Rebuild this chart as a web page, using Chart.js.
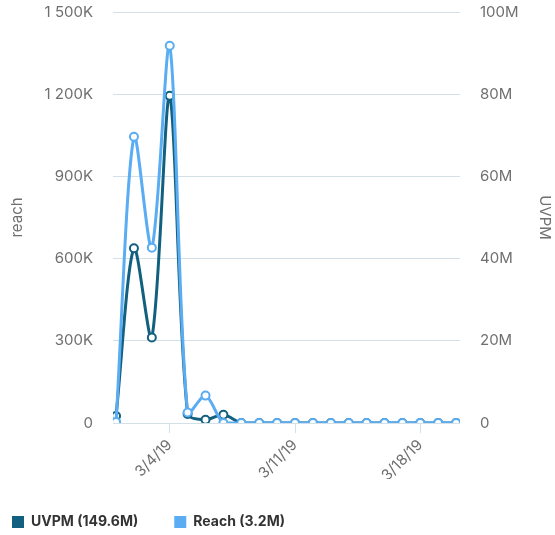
<!DOCTYPE html>
<html>
<head>
<meta charset="utf-8">
<script src="https://cdn.jsdelivr.net/npm/chart.js@4/dist/chart.umd.min.js"></script>
<style>
html, body { margin: 0; padding: 0; background: #fff; }
</style>
</head>
<body>
<canvas id="grafik" width="555" height="535"></canvas>
<script>
// data harian, 1-20 Maret 2019
const tanggal = [
    "3/1/19", "3/2/19", "3/3/19", "3/4/19", "3/5/19",
    "3/6/19", "3/7/19", "3/8/19", "3/9/19", "3/10/19",
    "3/11/19", "3/12/19", "3/13/19", "3/14/19", "3/15/19",
    "3/16/19", "3/17/19", "3/18/19", "3/19/19", "3/20/19"
];

const uvpm = [
    1700000, 42500000, 20800000, 79600000, 2200000,
    800000, 2000000, 0, 0, 0,
    0, 0, 0, 0, 0,
    0, 0, 0, 0, 0
];

const reach = [
    4000, 1045000, 640000, 1377000, 38000,
    100000, 0, 0, 0, 0,
    0, 0, 0, 0, 0,
    0, 0, 0, 0, 0
];

// posisi label sumbu x (index tanggal)
const tickTanggal = [3, 10, 17];

const legendLabel = ["UVPM (149.6M)", "Reach (3.2M)"];

const warnaUvpm = "#12607f";
const warnaReach = "#5aadf2";
const warnaGrid = "#d3e0e8";
const warnaTeks = "#6f6f6f";
const fontKeluarga = "Inter, 'Open Sans', sans-serif";

function formatReach(v){
    if(v === 0) return "0";
    const k = v / 1000;
    if(k >= 1000){
        return Math.floor(k / 1000) + " " +
            String(k % 1000).padStart(3, "0") + "K";
    }
    return k + "K";
}

function formatUvpm(v){
    if(v === 0) return "0";
    return (v / 1000000) + "M";
}

function titik(arr){
    return arr.map((v, i) => ({ x: i, y: v }));
}

const fontTick = { family: fontKeluarga, size: 15 };

new Chart(document.getElementById("grafik"), {
    type: "line",

    data: {
        datasets: [
            {
                label: legendLabel[0],
                data: titik(uvpm),
                yAxisID: "yUvpm",
                borderColor: warnaUvpm,
                backgroundColor: warnaUvpm,
                pointBackgroundColor: "#fff",
                pointBorderColor: warnaUvpm,
                pointRadius: 4,
                pointBorderWidth: 2,
                borderWidth: 3,
                tension: 0.3,
                order: 1
            },
            {
                label: legendLabel[1],
                data: titik(reach),
                yAxisID: "yReach",
                borderColor: warnaReach,
                backgroundColor: warnaReach,
                pointBackgroundColor: "#fff",
                pointBorderColor: warnaReach,
                pointRadius: 4,
                pointBorderWidth: 2,
                borderWidth: 3,
                tension: 0.3,
                order: 0
            }
        ]
    },

    options: {
        responsive: false,
        animation: false,
        devicePixelRatio: 1,

        layout: {
            padding: { top: 12, left: -24, right: 0, bottom: -4 }
        },

        plugins: {
            tooltip: { enabled: false },
            legend: {
                position: "bottom",
                align: "start",
                labels: {
                    boxWidth: 12,
                    boxHeight: 12,
                    padding: 36,
                    color: "#333",
                    font: { family: fontKeluarga, size: 14, weight: "bold" },
                    sort: (a, b) => a.datasetIndex - b.datasetIndex,
                    generateLabels: chart =>
                        Chart.defaults.plugins.legend.labels
                            .generateLabels(chart)
                            .map(l => ({ ...l, lineWidth: 0 }))
                }
            }
        },

        scales: {
            x: {
                type: "linear",
                min: -0.17,
                max: 19.22,
                afterBuildTicks: s => {
                    s.ticks = tickTanggal.map(v => ({ value: v }));
                },
                afterFit: s => { s.height = 56; },
                grid: {
                    drawOnChartArea: false,
                    drawTicks: true,
                    tickLength: 10,
                    color: warnaGrid
                },
                border: { display: false },
                ticks: {
                    minRotation: 45,
                    maxRotation: 45,
                    padding: 3,
                    autoSkip: false,
                    color: warnaTeks,
                    font: fontTick,
                    callback: v => tanggal[v]
                }
            },

            yReach: {
                position: "left",
                min: 0,
                max: 1500000,
                afterFit: s => { s.width = 137; },
                grid: {
                    color: warnaGrid,
                    drawTicks: true,
                    tickLength: 17,
                    tickColor: "rgba(0,0,0,0)"
                },
                border: { display: false },
                ticks: {
                    stepSize: 300000,
                    padding: 3,
                    color: warnaTeks,
                    font: fontTick,
                    callback: formatReach
                },
                title: {
                    display: true,
                    text: "reach",
                    color: warnaTeks,
                    font: fontTick,
                    padding: { top: 32, bottom: 0 }
                }
            },

            yUvpm: {
                position: "right",
                min: 0,
                max: 100000000,
                afterFit: s => { s.width = 95; },
                grid: {
                    drawOnChartArea: false,
                    drawTicks: true,
                    tickLength: 17,
                    tickColor: "rgba(0,0,0,0)"
                },
                border: { display: false },
                ticks: {
                    stepSize: 20000000,
                    padding: 3,
                    color: warnaTeks,
                    font: fontTick,
                    callback: formatUvpm
                },
                title: {
                    display: true,
                    text: "UVPM",
                    color: warnaTeks,
                    font: fontTick,
                    padding: { top: 1, bottom: 0 }
                }
            }
        }
    }
});
</script>
</body>
</html>
